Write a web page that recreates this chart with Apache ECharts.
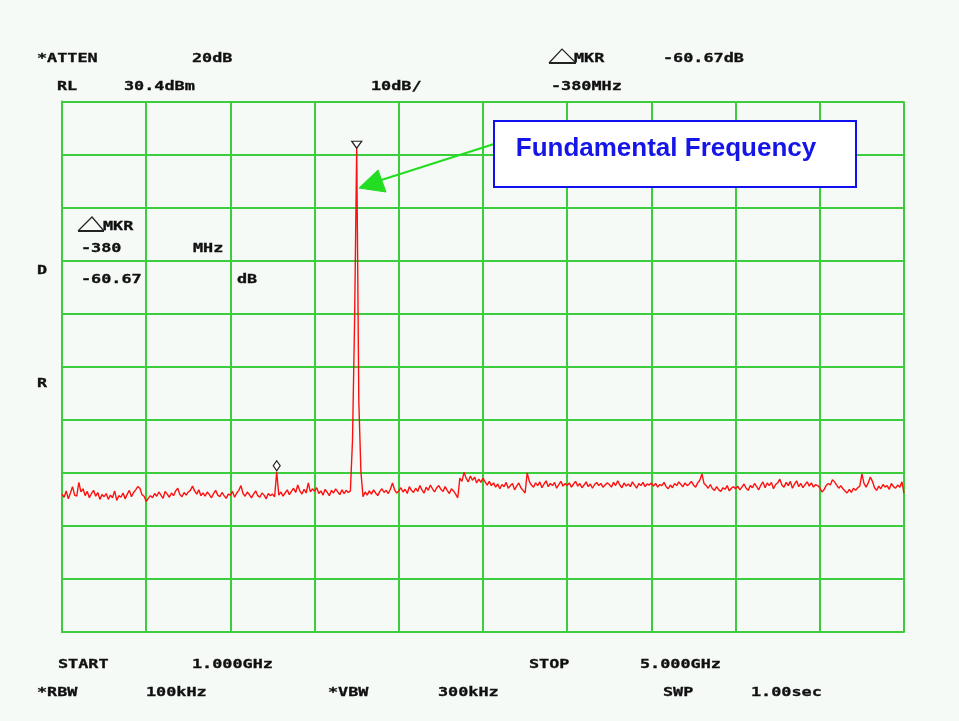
<!DOCTYPE html>
<html>
<head>
<meta charset="utf-8">
<script src="https://cdn.jsdelivr.net/npm/echarts@6/dist/echarts.min.js"></script>
<style>
html,body{margin:0;padding:0;background:#f6faf6;}
#chart{width:959px;height:721px;}
</style>
</head>
<body>
<div id="chart"></div>
<script>
// ---- instrument settings / tick text ----
const START_GHZ = 1.0;
const STOP_GHZ = 5.0;
const REF_LEVEL_DBM = 30.4;
const DB_PER_DIV = 10;
const DIVISIONS = 10;

// ---- measured trace (dBm), 401 sweep points from START to STOP ----
const TRACE_DBM = [
-43.6,-44.2,-43.0,-44.5,-43.4,-42.2,-43.8,-44.0,-41.4,-43.2,-42.6,-43.9,-43.1,-44.3,-43.5,-42.9,-44.0,-43.3,-44.6,-43.7,
-44.1,-43.5,-44.6,-43.8,-44.3,-43.0,-44.8,-43.9,-44.2,-43.4,-44.5,-43.6,-42.9,-44.1,-43.3,-42.8,-42.2,-42.5,-43.7,-44.0,
-45.0,-44.4,-43.9,-44.3,-43.5,-44.0,-43.2,-43.8,-44.4,-43.1,-43.6,-44.2,-43.4,-43.9,-43.0,-42.5,-43.7,-44.1,-43.3,-43.8,
-43.2,-42.9,-42.1,-43.0,-43.6,-42.8,-43.9,-43.4,-44.0,-43.2,-43.7,-44.3,-43.5,-42.9,-43.8,-44.1,-43.3,-43.9,-44.4,-43.6,
-43.8,-43.1,-44.2,-43.4,-42.9,-42.0,-43.5,-44.0,-43.2,-43.7,-44.3,-43.6,-43.0,-43.9,-44.2,-43.4,-43.8,-44.5,-43.5,-43.9,
-43.6,-44.1,-39.4,-43.8,-43.2,-44.0,-43.4,-42.8,-43.7,-43.1,-42.5,-43.3,-41.9,-43.0,-43.6,-42.7,-43.4,-41.5,-43.2,-42.6,
-43.1,-42.4,-43.5,-43.0,-43.8,-42.7,-43.3,-43.9,-42.9,-43.4,-42.6,-43.2,-43.7,-42.8,-43.5,-42.9,-43.3,-43.0,-33.5,-10.9,
21.7,-26.0,-39.4,-44.1,-43.2,-43.8,-43.0,-43.6,-42.8,-43.4,-43.9,-43.1,-42.6,-43.3,-42.9,-43.5,-42.7,-41.5,-42.8,-43.4,
-43.0,-42.4,-43.2,-42.7,-43.5,-42.2,-42.9,-43.3,-42.5,-43.1,-42.0,-42.8,-43.4,-42.3,-42.9,-41.9,-42.6,-43.2,-42.4,-42.0,
-42.7,-43.1,-42.2,-42.9,-43.5,-42.6,-43.0,-43.6,-44.3,-40.6,-41.2,-39.5,-40.6,-41.3,-40.2,-41.0,-40.4,-41.5,-40.8,-41.4,
-40.6,-41.3,-41.9,-41.2,-42.0,-41.5,-42.3,-41.7,-42.6,-41.8,-42.2,-41.4,-42.5,-42.0,-41.6,-42.8,-42.1,-41.5,-42.4,-42.9,
-43.4,-39.6,-41.2,-41.9,-42.3,-41.5,-42.0,-41.3,-42.4,-41.7,-41.1,-42.2,-41.6,-42.0,-41.4,-42.5,-41.8,-41.2,-42.1,-41.6,
-42.0,-41.5,-42.3,-41.7,-41.2,-42.1,-41.6,-42.4,-41.9,-41.3,-42.2,-41.7,-42.5,-41.8,-41.4,-42.0,-41.6,-42.3,-41.9,-41.5,
-41.8,-42.3,-41.4,-42.0,-41.1,-41.9,-42.4,-41.5,-42.1,-41.7,-42.2,-41.3,-41.9,-42.5,-41.6,-42.0,-41.4,-42.2,-41.7,-41.9,
-41.5,-42.1,-41.6,-42.3,-41.8,-42.0,-41.4,-42.2,-42.6,-41.9,-42.4,-41.6,-42.0,-41.3,-41.8,-42.2,-41.5,-42.0,-41.7,-41.2,
-41.9,-42.3,-41.5,-41.0,-39.8,-41.6,-42.0,-42.5,-41.8,-42.6,-42.9,-42.2,-42.8,-43.1,-42.4,-42.7,-42.0,-43.0,-42.5,-42.2,
-42.6,-42.1,-42.8,-42.3,-41.7,-42.5,-42.9,-42.0,-42.4,-41.6,-42.2,-42.8,-41.9,-41.3,-42.4,-41.5,-42.0,-41.4,-42.6,-41.8,
-41.5,-40.8,-41.9,-42.3,-41.4,-42.0,-41.2,-42.5,-41.7,-41.1,-42.2,-41.6,-42.4,-41.8,-41.3,-42.1,-41.5,-42.3,-41.8,-42.0,
-42.4,-43.2,-42.8,-42.0,-41.6,-41.9,-40.9,-41.3,-41.9,-42.5,-42.0,-42.6,-43.0,-43.4,-42.7,-43.3,-42.5,-42.9,-42.4,-42.1,
-39.8,-41.6,-42.3,-41.5,-40.4,-41.2,-42.4,-42.9,-42.1,-42.6,-41.8,-42.3,-42.0,-42.7,-41.6,-42.2,-42.5,-41.9,-42.3,-41.3,
-43.4
];

// ---- markers: sweep point indices (peak = reference marker, delta marker) ----
const PEAK_INDEX = 140;
const DELTA_INDEX = 102;

// ---- header / footer texts ----
const HEADER_TEXTS = [
  ['*ATTEN', 37, 58], ['20dB', 192, 58],
  ['RL', 57, 86], [REF_LEVEL_DBM.toFixed(1) + 'dBm', 124, 86], [DB_PER_DIV + 'dB/', 371, 86],
  ['MKR', 574, 58], ['-60.67dB', 663, 58], ['-380MHz', 551, 86],
  ['MKR', 103, 226], ['-380', 81, 248], ['MHz', 193, 248], ['-60.67', 81, 279], ['dB', 237, 279],
  ['D', 37, 270], ['R', 37, 383],
  ['START', 58, 664], [START_GHZ.toFixed(3) + 'GHz', 192, 664],
  ['STOP', 529, 664], [STOP_GHZ.toFixed(3) + 'GHz', 640, 664],
  ['*RBW', 37, 692], ['100kHz', 146, 692], ['*VBW', 328, 692], ['300kHz', 438, 692],
  ['SWP', 663, 692], ['1.00sec', 751, 692]
];

const N = TRACE_DBM.length;
const sweep = TRACE_DBM.map((v, i) => [START_GHZ + i * (STOP_GHZ - START_GHZ) / (N - 1), v]);

const GRID_GREEN = '#3ccc3c';
const chart = echarts.init(document.getElementById('chart'), null, {renderer: 'canvas'});

const graphics = [];
HEADER_TEXTS.forEach(t => {
  graphics.push({
    type: 'text', x: t[1], y: t[2] + 0.5, scaleX: 1.4, z: 100,
    style: {text: t[0], font: 'bold 12px "DejaVu Sans Mono"', fill: '#101010',
            stroke: '#101010', lineWidth: 0.3,
            textAlign: 'left', textVerticalAlign: 'middle', align: 'left', verticalAlign: 'middle'}
  });
});
// delta-marker icons
[[549, 63, 562, 49, 576], [78, 231, 92, 217, 104]].forEach(p => {
  graphics.push({type: 'polyline', z: 100, shape: {points: [[p[0], p[1]], [p[2], p[3]], [p[4], p[1]]]},
    style: {stroke: '#222', lineWidth: 1.2, fill: null}});
  graphics.push({type: 'line', z: 100, shape: {x1: p[0], y1: p[1], x2: p[4], y2: p[1]},
    style: {stroke: '#222', lineWidth: 2}});
});
// annotation
graphics.push({type: 'line', z: 110, shape: {x1: 494, y1: 144, x2: 372, y2: 183},
  style: {stroke: '#22dd22', lineWidth: 2}});
graphics.push({type: 'polygon', z: 110, shape: {points: [[359, 188], [378, 170], [386, 192]]},
  style: {fill: '#22dd22', stroke: '#22dd22'}});
graphics.push({type: 'rect', z: 110, shape: {x: 494, y: 121, width: 362, height: 66},
  style: {fill: '#ffffff', stroke: '#1010ee', lineWidth: 2}});
graphics.push({type: 'text', z: 111, x: 666, y: 149,
  style: {text: 'Fundamental Frequency', font: 'bold 26px "Liberation Sans", Arial, sans-serif',
          fill: '#1515e8', textAlign: 'center', textVerticalAlign: 'middle', align: 'center', verticalAlign: 'middle'}});

const option = {
  animation: false,
  backgroundColor: '#f6faf6',
  grid: {left: 62, top: 101.5, width: 842, height: 530.5, containLabel: false},
  xAxis: [
    {type: 'value', min: START_GHZ, max: STOP_GHZ, show: false},
    {type: 'value', min: 0, max: DIVISIONS, interval: 1, position: 'bottom',
     axisLabel: {show: false}, axisTick: {show: false},
     axisLine: {show: true, lineStyle: {color: GRID_GREEN, width: 2}},
     splitLine: {show: true, showMinLine: true, showMaxLine: true, lineStyle: {color: GRID_GREEN, width: 2}}}
  ],
  yAxis: [
    {type: 'value', min: REF_LEVEL_DBM - DB_PER_DIV * DIVISIONS, max: REF_LEVEL_DBM, show: false},
    {type: 'value', min: 0, max: DIVISIONS, interval: 1, position: 'left',
     axisLabel: {show: false}, axisTick: {show: false},
     axisLine: {show: true, lineStyle: {color: GRID_GREEN, width: 2}},
     splitLine: {show: true, showMinLine: true, showMaxLine: true, lineStyle: {color: GRID_GREEN, width: 2}}}
  ],
  series: [{
    type: 'line', xAxisIndex: 0, yAxisIndex: 0, data: sweep,
    showSymbol: false, symbol: 'none', z: 5,
    lineStyle: {color: '#ff1010', width: 1.4},
    markPoint: {
      z: 20, label: {show: false}, silent: true,
      itemStyle: {color: '#ffffff', borderColor: '#222', borderWidth: 1.2},
      data: [
        {coord: sweep[PEAK_INDEX], symbol: 'triangle', symbolRotate: 180, symbolSize: [10, 7], symbolOffset: [0, -3]},
        {coord: sweep[DELTA_INDEX], symbol: 'diamond', symbolSize: [7, 10], symbolOffset: [0, -6]}
      ]
    }
  }],
  graphic: graphics
};
chart.setOption(option);
</script>
</body>
</html>
